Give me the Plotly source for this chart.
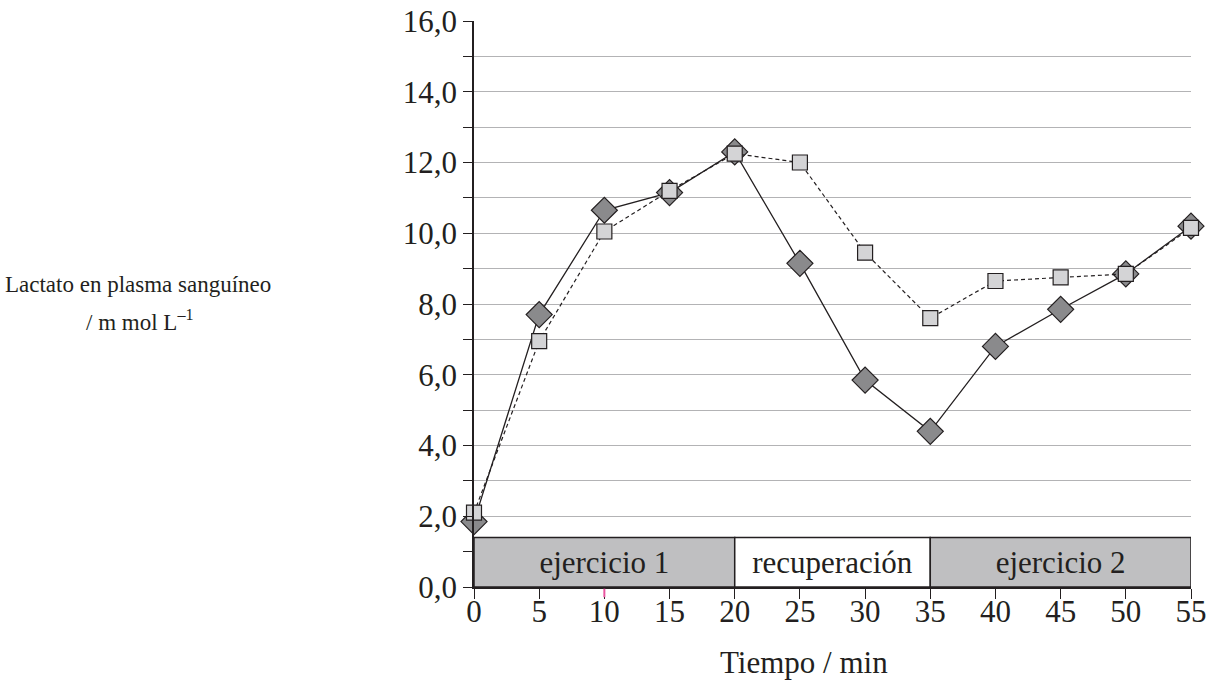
import plotly.graph_objects as go

tiempo = [0, 5, 10, 15, 20, 25, 30, 35, 40, 45, 50, 55]
serie_rombos = [1.85, 7.7, 10.65, 11.15, 12.3, 9.15, 5.85, 4.4, 6.8, 7.85, 8.85, 10.2]
serie_cuadrados = [2.1, 6.95, 10.05, 11.2, 12.25, 12.0, 9.45, 7.6, 8.65, 8.75, 8.85, 10.15]

fases = ["ejercicio 1", "recuperación", "ejercicio 2"]
fase_inicio = [0, 20, 35]
fase_fin = [20, 35, 55]
fase_altura = 1.4
fase_colores = ["#bfbfc1", "#ffffff", "#bfbfc1"]

y_ticks = list(range(0, 17))
y_labels = [f"{v},0" if v % 2 == 0 else "" for v in y_ticks]
x_ticks = list(range(0, 56, 5))

FONT = "Liberation Serif, Times New Roman, serif"
INK = "#231f20"

fig = go.Figure()

fig.add_trace(go.Bar(
    x=[(a + b) / 2 for a, b in zip(fase_inicio, fase_fin)],
    y=[fase_altura] * len(fases),
    base=0,
    width=[b - a for a, b in zip(fase_inicio, fase_fin)],
    marker=dict(color=fase_colores, line=dict(color=INK, width=1.5)),
    text=fases,
    textposition="inside",
    insidetextanchor="middle",
    textangle=0,
    constraintext="none",
    textfont=dict(family=FONT, size=31, color=INK),
    hoverinfo="skip",
    showlegend=False,
))

fig.add_trace(go.Scatter(
    x=tiempo, y=serie_rombos, mode="lines+markers",
    line=dict(color=INK, width=1.3),
    marker=dict(symbol="diamond", size=20, color="#8a8a8c",
                line=dict(color=INK, width=1.2)),
    cliponaxis=False, showlegend=False,
))

fig.add_trace(go.Scatter(
    x=tiempo, y=serie_cuadrados, mode="lines+markers",
    line=dict(color=INK, width=1.2, dash="4px,3px"),
    marker=dict(symbol="square", size=15, color="#d4d4d6",
                line=dict(color=INK, width=1.2)),
    cliponaxis=False, showlegend=False,
))

# pink tick mark at 10 (as in the original)
fig.add_shape(type="line", xref="x", yref="paper", x0=10, x1=10, y0=-0.003, y1=-0.018,
              line=dict(color="#e8559f", width=2))

fig.update_layout(
    width=1213, height=684,
    margin=dict(l=474, r=22, t=21, b=97, autoexpand=False),
    paper_bgcolor="white", plot_bgcolor="white",
    font=dict(family=FONT, size=31, color=INK),
    barmode="overlay",
    xaxis=dict(
        range=[0, 55], tickvals=x_ticks, ticktext=[str(v) for v in x_ticks],
        showgrid=False, zeroline=False, automargin=False,
        showline=True, linecolor=INK, linewidth=1.5,
        ticks="outside", ticklen=10, tickwidth=1.3, tickcolor=INK,
        tickfont=dict(family=FONT, size=31),
        ticklabeloverflow="allow", ticklabelstandoff=-14,
    ),
    yaxis=dict(
        range=[0, 16], tickvals=y_ticks, ticktext=y_labels,
        showgrid=True, gridcolor="#b3b3b5", gridwidth=1.3,
        zeroline=False, automargin=False,
        showline=True, linecolor=INK, linewidth=1.5,
        ticks="outside", ticklen=9, tickwidth=1.3, tickcolor=INK,
        tickfont=dict(family=FONT, size=31),
        ticklabeloverflow="allow",
    ),
    annotations=[
        dict(text="Tiempo / min", xref="paper", yref="paper", x=0.460, y=-0.134,
             xanchor="center", yanchor="middle", showarrow=False,
             font=dict(family=FONT, size=31, color=INK)),
        dict(text="Lactato en plasma sanguíneo",
             xref="paper", yref="paper", x=-0.4686, y=0.5336,
             xanchor="center", yanchor="middle", showarrow=False,
             font=dict(family=FONT, size=23, color=INK)),
        dict(text="/ m mol L<sup>–1</sup>",
             xref="paper", yref="paper", x=-0.466, y=0.4717,
             xanchor="center", yanchor="middle", showarrow=False,
             font=dict(family=FONT, size=23, color=INK)),
    ],
)

fig.write_html("out.html",
               config={"displayModeBar": False},
               post_script="document.body.style.margin='0';document.body.style.overflow='hidden';")
